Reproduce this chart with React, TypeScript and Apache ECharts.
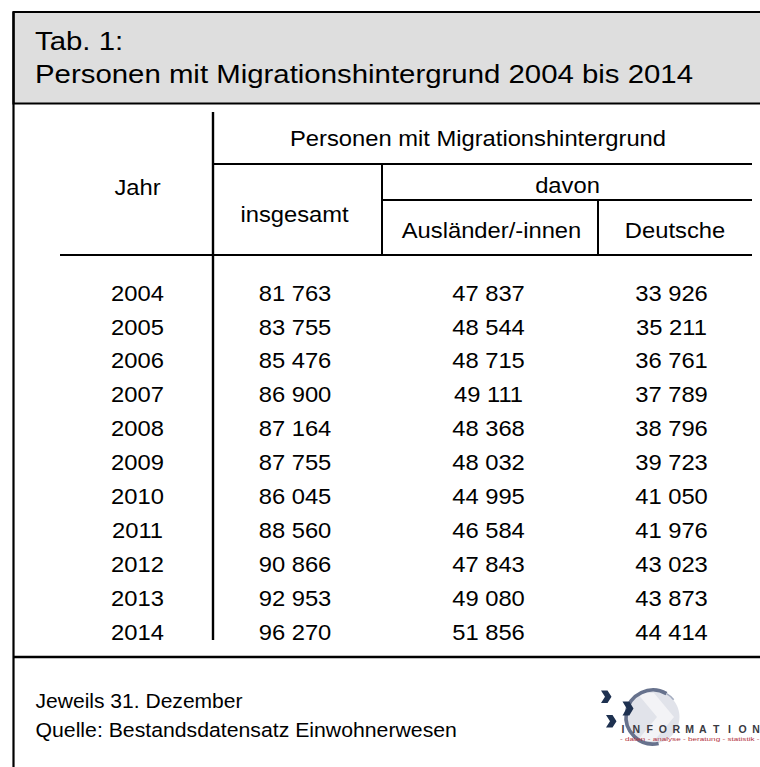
import React, { useEffect, useRef } from "react";
import * as echarts from "echarts";

const titleLines = ["Tab. 1:", "Personen mit Migrationshintergrund 2004 bis 2014"];
const headerTop = "Personen mit Migrationshintergrund";
const headerDavon = "davon";
const headerJahr = "Jahr";
const headerInsg = "insgesamt";
const headerAusl = "Ausländer/-innen";
const headerDeut = "Deutsche";

const years = ["2004", "2005", "2006", "2007", "2008", "2009", "2010", "2011", "2012", "2013", "2014"];
const insgesamt = [81763, 83755, 85476, 86900, 87164, 87755, 86045, 88560, 90866, 92953, 96270];
const auslaender = [47837, 48544, 48715, 49111, 48368, 48032, 44995, 46584, 47843, 49080, 51856];
const deutsche = [33926, 35211, 36761, 37789, 38796, 39723, 41050, 41976, 43023, 43873, 44414];

const footnotes = ["Jeweils 31. Dezember", "Quelle: Bestandsdatensatz Einwohnerwesen"];
const logoWord = "INFORMATION";
const logoSub = "- daten - analyse - beratung - statistik -";

const FONT = "'Liberation Sans', Arial, Helvetica, sans-serif";

const fmt = (n: number) => String(n).replace(/\B(?=(\d{3})+(?!\d))/g, " ");

function txt(text: string, x: number, y: number, size: number, align = "center", scaleX = 1.08, extra: any = {}) {
  return {
    type: "text",
    x,
    y,
    scaleX,
    z: 10,
    style: {
      text,
      fontSize: size,
      fontFamily: FONT,
      fontWeight: extra.fontWeight || "normal",
      fill: extra.fill || "#000",
      align,
      verticalAlign: "middle",
      textAlign: align,
      textVerticalAlign: "middle",
    },
  };
}

function ln(x1: number, y1: number, x2: number, y2: number, w = 2) {
  return {
    type: "line",
    z: 5,
    shape: { x1, y1, x2, y2 },
    style: { stroke: "#000", lineWidth: w },
  };
}

function chevron(x0: number, y0: number, w: number, h: number) {
  const t = w * 0.62;
  return {
    type: "polygon",
    z: 14,
    shape: {
      points: [
        [x0, y0],
        [x0 + t, y0],
        [x0 + w, y0 + h / 2],
        [x0 + t, y0 + h],
        [x0, y0 + h],
        [x0 + w - t, y0 + h / 2],
      ],
    },
    style: { fill: "#1e3150" },
  };
}

export default function App() {
  const ref = useRef<HTMLDivElement>(null);
  useEffect(() => {
    if (!ref.current) return;
    const chart = echarts.init(ref.current, undefined, { renderer: "svg" });
    const g: any[] = [];

    // header box
    g.push({
      type: "rect",
      z: 1,
      shape: { x: 13.5, y: 12, width: 800, height: 91.5 },
      style: { fill: "#dedede", stroke: "#000", lineWidth: 2.2 },
    });
    // left border
    g.push(ln(13.5, 12, 13.5, 800, 2.2));
    // title
    g.push(txt(titleLines[0], 35, 41, 26, "left", 1.13));
    g.push(txt(titleLines[1], 35, 74, 26, "left", 1.13));

    // table lines
    g.push(ln(213, 112, 213, 640, 2.4));
    g.push(ln(213, 164, 752, 164));
    g.push(ln(382, 164, 382, 255));
    g.push(ln(382, 200, 752, 200));
    g.push(ln(598, 200, 598, 255));
    g.push(ln(60, 255, 752, 255));
    // section separator
    g.push(ln(13.5, 657, 800, 657, 2.4));

    // headers
    g.push(txt(headerTop, 478, 138, 22));
    g.push(txt(headerDavon, 567.5, 185, 22));
    g.push(txt(headerJahr, 137.5, 187, 22));
    g.push(txt(headerInsg, 294.5, 214, 22));
    g.push(txt(headerAusl, 491.5, 230, 22));
    g.push(txt(headerDeut, 675, 230, 22));

    // rows
    const y0 = 293;
    const dy = 33.9;
    years.forEach((yr, i) => {
      const y = y0 + i * dy;
      g.push(txt(yr, 137.5, y, 22));
      g.push(txt(fmt(insgesamt[i]), 295, y, 22));
      g.push(txt(fmt(auslaender[i]), 488.5, y, 22));
      g.push(txt(fmt(deutsche[i]), 671.5, y, 22));
    });

    // footnotes
    g.push(txt(footnotes[0], 35.5, 701.5, 19.5, "left", 1.08));
    g.push(txt(footnotes[1], 35.5, 730, 19.5, "left", 1.09));

    // logo
    g.push({
      type: "circle",
      z: 11,
      shape: { cx: 653, cy: 717, r: 26.5 },
      style: { fill: "#e1e3ea" },
    });
    g.push({
      type: "polygon",
      z: 11,
      shape: {
        points: [
          [637, 693],
          [654, 693],
          [674, 717],
          [654, 741],
          [637, 741],
          [657, 717],
        ],
      },
      style: { fill: "#f3f3f6" },
    });
    g.push({
      type: "arc",
      z: 12,
      shape: { cx: 653, cy: 717, r: 27, startAngle: (78 * Math.PI) / 180, endAngle: (300 * Math.PI) / 180, clockwise: true },
      style: { stroke: "#67728d", lineWidth: 3.6, fill: null },
    });
    g.push({
      type: "arc",
      z: 12,
      shape: { cx: 653, cy: 717, r: 27, startAngle: (300 * Math.PI) / 180, endAngle: (320 * Math.PI) / 180, clockwise: true },
      style: { stroke: "#a5adc0", lineWidth: 1.6, fill: null },
    });
    g.push(chevron(601, 690.5, 10.5, 12.5));
    g.push(chevron(622.5, 701.5, 11, 14));
    g.push(chevron(606, 715, 10.5, 12.5));
    logoWord.split("").forEach((ch, i) => {
      g.push({
        type: "text",
        x: 623 + i * 13.3,
        y: 728.5,
        z: 15,
        style: {
          text: ch,
          fontSize: 10.5,
          fontWeight: "bold",
          fontFamily: FONT,
          fill: "#3a3a42",
          align: "center",
          verticalAlign: "middle",
          textAlign: "center",
          textVerticalAlign: "middle",
        },
      });
    });
    g.push({
      type: "text",
      x: 620,
      y: 739,
      z: 15,
      scaleX: 1.36,
      style: {
        text: logoSub,
        fontSize: 6,
        fontFamily: FONT,
        fill: "#b3343e",
        align: "left",
        verticalAlign: "middle",
        textAlign: "left",
        textVerticalAlign: "middle",
      },
    });

    chart.setOption({
      animation: false,
      backgroundColor: "#ffffff",
      graphic: { elements: g },
    });
    return () => chart.dispose();
  }, []);

  return (
    <div
      ref={ref}
      style={{ position: "fixed", left: 0, top: 0, width: 760, height: 767, background: "#fff" }}
    />
  );
}
